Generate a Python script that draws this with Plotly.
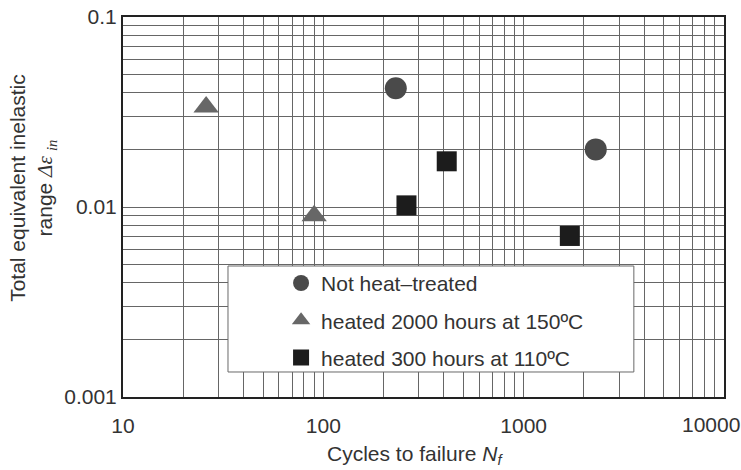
import plotly.graph_objects as go

# Fatigue data: cycles to failure vs. total equivalent inelastic strain range
not_treated_cycles = [230, 2290]
not_treated_strain = [0.0422, 0.0201]

heated_2000h_cycles = [26, 90]
heated_2000h_strain = [0.0336, 0.0090]

heated_300h_cycles = [260, 413, 1700]
heated_300h_strain = [0.0102, 0.0174, 0.00704]

series_names = ["Not heat\u2013treated",
                "heated 2000 hours at 150\u00baC",
                "heated 300 hours at 110\u00baC"]

x_tick_vals = [10, 100, 1000, 10000]
x_tick_text = ["10", "100", "1000", "10000"]
y_tick_vals = [0.001, 0.01, 0.1]
y_tick_text = ["0.001", "0.01", "0.1"]

FONT = "Liberation Sans, Arial, sans-serif"
FS = 21
TEXT = "#333333"
GRID = "#666666"

fig = go.Figure()

fig.add_trace(go.Scatter(
    x=not_treated_cycles, y=not_treated_strain, mode="markers",
    name=series_names[0], legendgroup="a",
    marker=dict(symbol="circle", size=22, color="#4a4a4a", line=dict(width=0)),
))
fig.add_trace(go.Scatter(
    x=heated_2000h_cycles, y=heated_2000h_strain, mode="markers",
    name=series_names[1], legendgroup="b",
    marker=dict(symbol="triangle-up", size=22, color="#676767", line=dict(width=0)),
))
fig.add_trace(go.Scatter(
    x=heated_300h_cycles, y=heated_300h_strain, mode="markers",
    name=series_names[2], legendgroup="c",
    marker=dict(symbol="square", size=20, color="#1c1c1c", line=dict(width=0)),
))

axis_common = dict(
    type="log", automargin=False,
    showgrid=True, gridcolor=GRID, gridwidth=1,
    showline=True, linecolor="#222222", linewidth=2, mirror=True,
    ticks="", zeroline=False,
    tickfont=dict(family=FONT, size=FS, color=TEXT),
    minor=dict(dtick="D1", showgrid=True, gridcolor=GRID, gridwidth=1, ticks=""),
)

# The last x label sits at the right edge of the page, so it is drawn
# separately and nudged inward; the others are regular tick labels.
fig.update_xaxes(
    **axis_common, range=[1, 4],
    tickmode="array", tickvals=x_tick_vals[:-1], ticktext=x_tick_text[:-1],
    ticklabelstandoff=9,
)
fig.update_yaxes(
    **axis_common, range=[-3, -1],
    tickmode="array", tickvals=y_tick_vals, ticktext=y_tick_text,
    ticklabelstandoff=0,
)

# Legend frame
fig.add_shape(
    type="rect", xref="paper", yref="paper",
    x0=0.1747, x1=0.850, y0=0.0658, y1=0.3447,
    fillcolor="white", line=dict(color="#6a6a6a", width=1), layer="above",
)

fig.update_layout(
    width=741, height=470,
    margin=dict(l=123, r=17, t=17, b=73, autoexpand=False),
    paper_bgcolor="white", plot_bgcolor="white",
    font=dict(family=FONT, size=FS, color=TEXT),
    showlegend=True,
    legend=dict(
        x=0.263, y=0.353, xanchor="left", yanchor="top",
        bgcolor="rgba(0,0,0,0)", borderwidth=0,
        font=dict(family=FONT, size=FS, color=TEXT),
        tracegroupgap=7, itemsizing="trace",
    ),
    annotations=[
        dict(
            text=x_tick_text[-1], xref="x", yref="paper",
            x=4, y=0, xanchor="center", yanchor="top",
            xshift=-13, yshift=-15, borderpad=0,
            showarrow=False, font=dict(family=FONT, size=FS, color=TEXT),
        ),
        dict(
            text=("Total equivalent inelastic<br>range "
                  "<span style='font-family:Liberation Serif'><i>\u0394\u03b5</i> "
                  "<sub><i>in</i></sub></span>"),
            xref="paper", yref="paper", x=-0.150, y=0.55,
            xanchor="center", yanchor="middle", textangle=-90,
            showarrow=False, font=dict(family=FONT, size=FS, color=TEXT),
        ),
        dict(
            text="Cycles to failure <i>N</i><sub><i>f</i></sub>",
            xref="paper", yref="paper", x=0.486, y=-0.1526,
            xanchor="center", yanchor="middle",
            showarrow=False, font=dict(family=FONT, size=FS, color=TEXT),
        ),
    ],
)

fig.write_html("out.html")
